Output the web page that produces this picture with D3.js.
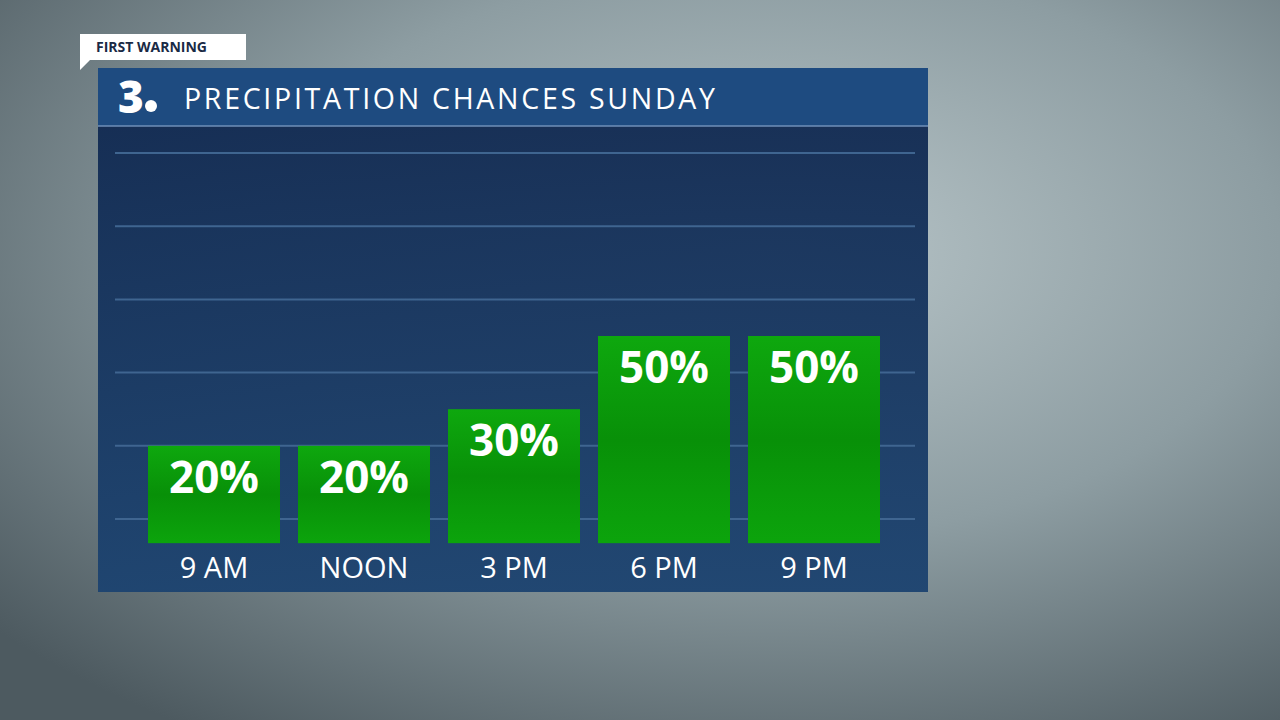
<!DOCTYPE html>
<html><head><meta charset="utf-8">
<script src="https://cdn.jsdelivr.net/npm/d3@7/dist/d3.min.js"></script>
<style>body{margin:0;overflow:hidden}</style></head>
<body><svg id="c" width="1280" height="720"></svg>
<script>
const categories = ["9 AM","NOON","3 PM","6 PM","9 PM"];
const values = [20,20,30,50,50];
const gridTicks = [0,20,40,60,80,100];
const title = "PRECIPITATION CHANCES SUNDAY";

const svg = d3.select("#c");
const defs = svg.append("defs");
const bg = defs.append("radialGradient").attr("id","bg").attr("cx","0.6").attr("cy","0.35").attr("r","0.8");
bg.append("stop").attr("offset","0").attr("stop-color","#b9c6c9");
bg.append("stop").attr("offset","0.5").attr("stop-color","#8d9da2");
bg.append("stop").attr("offset","1").attr("stop-color","#4d5a60");
svg.append("rect").attr("width",1280).attr("height",720).attr("fill","url(#bg)");

const pg = defs.append("linearGradient").attr("id","pg").attr("x1",0).attr("y1",0).attr("x2",0).attr("y2",1);
pg.append("stop").attr("offset","0").attr("stop-color","#112a52");
pg.append("stop").attr("offset","1").attr("stop-color","#1c4370");
const bgG = defs.append("linearGradient").attr("id","bar").attr("x1",0).attr("y1",0).attr("x2",0).attr("y2",1);
bgG.append("stop").attr("offset","0").attr("stop-color","#0ea80e");
bgG.append("stop").attr("offset","0.5").attr("stop-color","#089008");
bgG.append("stop").attr("offset","1").attr("stop-color","#0ca40c");

svg.append("rect").attr("x",98).attr("y",126).attr("width",830).attr("height",466).attr("fill","url(#pg)").attr("opacity",0.95);
svg.append("rect").attr("x",98).attr("y",68).attr("width",830).attr("height",58).attr("fill","#1e4b80");
svg.append("line").attr("x1",98).attr("x2",928).attr("y1",126).attr("y2",126).attr("stroke","#6f8fb8").attr("stroke-width",1.5);
svg.append("text").attr("x",118).attr("y",113).attr("fill","#fff").attr("font-family","Open Sans").attr("font-weight",800).attr("font-size",44).text("3");
svg.append("circle").attr("cx",151).attr("cy",106).attr("r",6).attr("fill","#fff");
svg.append("text").attr("x",184).attr("y",109).attr("fill","#fff").attr("font-family","Open Sans").attr("font-size",28.5).attr("textLength",531).text(title);

svg.append("path").attr("d","M80,34H246V60H90L80,70Z").attr("fill","#fff");
svg.append("text").attr("x",96).attr("y",52).attr("fill","#1a2a45").attr("font-family","Open Sans").attr("font-weight",700).attr("font-size",14).text("FIRST WARNING");

const y = d3.scaleLinear().domain([0,100]).range([519,153]);
const x = d3.scaleBand().domain(categories).range([139,889]).paddingInner(0.12).paddingOuter(0.06);
svg.selectAll(".g").data(gridTicks).join("line").attr("x1",115).attr("x2",915)
  .attr("y1",d=>y(d)).attr("y2",d=>y(d)).attr("stroke","#3f6590").attr("stroke-width",2);
const base = y(-6.6);
svg.selectAll(".b").data(values).join("rect").attr("x",(d,i)=>x(categories[i])).attr("width",x.bandwidth())
  .attr("y",d=>y(d)).attr("height",d=>base-y(d)).attr("fill","url(#bar)");
svg.selectAll(".v").data(values).join("text").attr("x",(d,i)=>x(categories[i])+x.bandwidth()/2)
  .attr("y",d=>y(d)+47).attr("text-anchor","middle").attr("fill","#fff").attr("font-family","Open Sans")
  .attr("font-weight",700).attr("font-size",44).text(d=>d+"%");
svg.selectAll(".l").data(categories).join("text").attr("x",d=>x(d)+x.bandwidth()/2).attr("y",578)
  .attr("text-anchor","middle").attr("fill","#fff").attr("font-family","Open Sans").attr("font-size",29).text(d=>d);
</script></body></html>
